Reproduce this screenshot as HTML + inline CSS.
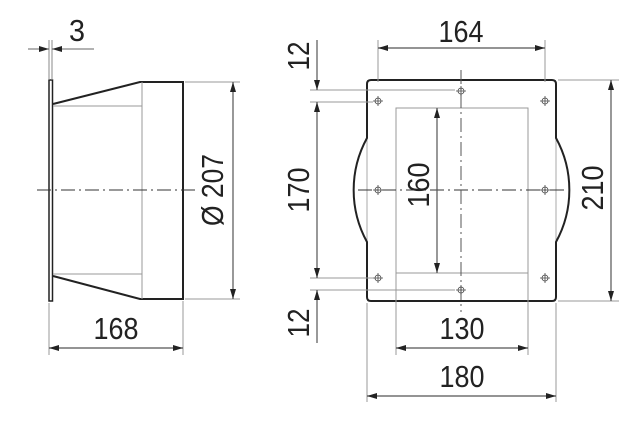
<!DOCTYPE html>
<html><head><meta charset="utf-8"><style>
html,body{margin:0;padding:0;background:#fff;}
svg{display:block;}
text{font-family:"Liberation Sans",sans-serif;font-size:31px;fill:#222;}
</style></head><body>
<svg width="640" height="423" viewBox="0 0 640 423" xmlns="http://www.w3.org/2000/svg">
<defs>
<marker id="a" viewBox="0 0 10 6" refX="10" refY="3" markerWidth="10" markerHeight="6" markerUnits="userSpaceOnUse" orient="auto-start-reverse"><path d="M0,0 L10,3 L0,6 z" fill="#222"/></marker>
</defs>
<g fill="none" stroke-linecap="butt">
<!-- LEFT VIEW -->
<rect x="49" y="80" width="3.5" height="221" stroke="#222" stroke-width="1.5"/>
<path d="M53,104 L140,82 L183,82 L183,299 L140,299 L53,276" stroke="#222" stroke-width="2"/>
<path d="M142,82 L142,299 M53,106 L142,106 M53,274 L142,274" stroke="#999" stroke-width="1"/>
<path d="M37,190 L196,190" stroke="#333" stroke-width="1" stroke-dasharray="14,4,2,4"/>
<path d="M49,40 L49,80 M52,40 L52,80" stroke="#888" stroke-width="1"/>
<path d="M28,49 L49,49" stroke="#666" stroke-width="1" marker-end="url(#a)"/>
<path d="M52,49 L94,49" stroke="#666" stroke-width="1" marker-start="url(#a)"/>
<path d="M185,82 L240,82 M185,299 L240,299" stroke="#999" stroke-width="1"/>
<path d="M233,82 L233,299" stroke="#555" stroke-width="1.2" marker-start="url(#a)" marker-end="url(#a)"/>
<path d="M49,303 L49,355 M183,301 L183,355" stroke="#999" stroke-width="1"/>
<path d="M49,348 L183,348" stroke="#555" stroke-width="1.2" marker-start="url(#a)" marker-end="url(#a)"/>

<!-- RIGHT VIEW -->
<path d="M367,138 L367,242 M556,138 L556,242" stroke="#aaa" stroke-width="1"/>
<path d="M371,80 L552,80 Q556,80 556,84 L556,138 A108,108 0 0 1 556,242 L556,297 Q556,301 552,301 L371,301 Q367,301 367,297 L367,242 A108,108 0 0 1 367,138 L367,84 Q367,80 371,80 Z" stroke="#222" stroke-width="2"/>
<rect x="396" y="108" width="132" height="165" stroke="#999" stroke-width="1"/>
<path d="M358,190 L566,190" stroke="#333" stroke-width="1" stroke-dasharray="14,4,2,4"/>
<path d="M461,70 L461,312" stroke="#555" stroke-width="1" stroke-dasharray="14,4,2,4"/>
<g stroke="#444" stroke-width="0.8">
<circle cx="378" cy="101" r="3"/><circle cx="461" cy="91" r="3"/><circle cx="545" cy="101" r="3"/>
<circle cx="378" cy="190" r="3"/><circle cx="545" cy="190" r="3"/>
<circle cx="378" cy="278" r="3"/><circle cx="461" cy="290" r="3"/><circle cx="545" cy="278" r="3"/>
<path d="M373,101h10M378,96v10M456,91h10M461,86v10M540,101h10M545,96v10M373,190h10M378,185v10M540,190h10M545,185v10M373,278h10M378,273v10M456,290h10M461,285v10M540,278h10M545,273v10"/>
</g>
<path d="M378,40 L378,82 M545,40 L545,82" stroke="#999" stroke-width="1"/>
<path d="M378,48 L545,48" stroke="#555" stroke-width="1.2" marker-start="url(#a)" marker-end="url(#a)"/>
<path d="M310,90 L455,90 M310,102 L373,102 M310,278 L373,278 M310,290 L455,290" stroke="#999" stroke-width="1"/>
<path d="M317,40 L317,90" stroke="#555" stroke-width="1.2" marker-end="url(#a)"/>
<path d="M317,102 L317,278" stroke="#555" stroke-width="1.2" marker-start="url(#a)" marker-end="url(#a)"/>
<path d="M317,290 L317,343" stroke="#555" stroke-width="1.2" marker-start="url(#a)"/>
<path d="M437,108 L437,273" stroke="#555" stroke-width="1.2" marker-start="url(#a)" marker-end="url(#a)"/>
<path d="M558,80 L619,80 M558,301 L619,301" stroke="#999" stroke-width="1"/>
<path d="M611,80 L611,301" stroke="#555" stroke-width="1.2" marker-start="url(#a)" marker-end="url(#a)"/>
<path d="M396,273 L396,355 M528,273 L528,355" stroke="#999" stroke-width="1"/>
<path d="M396,348 L528,348" stroke="#555" stroke-width="1.2" marker-start="url(#a)" marker-end="url(#a)"/>
<path d="M367,303 L367,402 M556,303 L556,402" stroke="#999" stroke-width="1"/>
<path d="M367,396 L556,396" stroke="#555" stroke-width="1.2" marker-start="url(#a)" marker-end="url(#a)"/>
</g>
<g text-anchor="middle">
<text x="77" y="41" textLength="16" lengthAdjust="spacingAndGlyphs">3</text>
<text x="116" y="339" textLength="45" lengthAdjust="spacingAndGlyphs">168</text>
<text transform="translate(223,190) rotate(-90)" textLength="72" lengthAdjust="spacingAndGlyphs">Ø 207</text>
<text x="461" y="42" textLength="45" lengthAdjust="spacingAndGlyphs">164</text>
<text x="462" y="339" textLength="45" lengthAdjust="spacingAndGlyphs">130</text>
<text x="462" y="387" textLength="45" lengthAdjust="spacingAndGlyphs">180</text>
<text transform="translate(309,56) rotate(-90)" textLength="29" lengthAdjust="spacingAndGlyphs">12</text>
<text transform="translate(309,190) rotate(-90)" textLength="45" lengthAdjust="spacingAndGlyphs">170</text>
<text transform="translate(309,323) rotate(-90)" textLength="29" lengthAdjust="spacingAndGlyphs">12</text>
<text transform="translate(429,185) rotate(-90)" textLength="45" lengthAdjust="spacingAndGlyphs">160</text>
<text transform="translate(603,188) rotate(-90)" textLength="45" lengthAdjust="spacingAndGlyphs">210</text>
</g>
</svg>
</body></html>
